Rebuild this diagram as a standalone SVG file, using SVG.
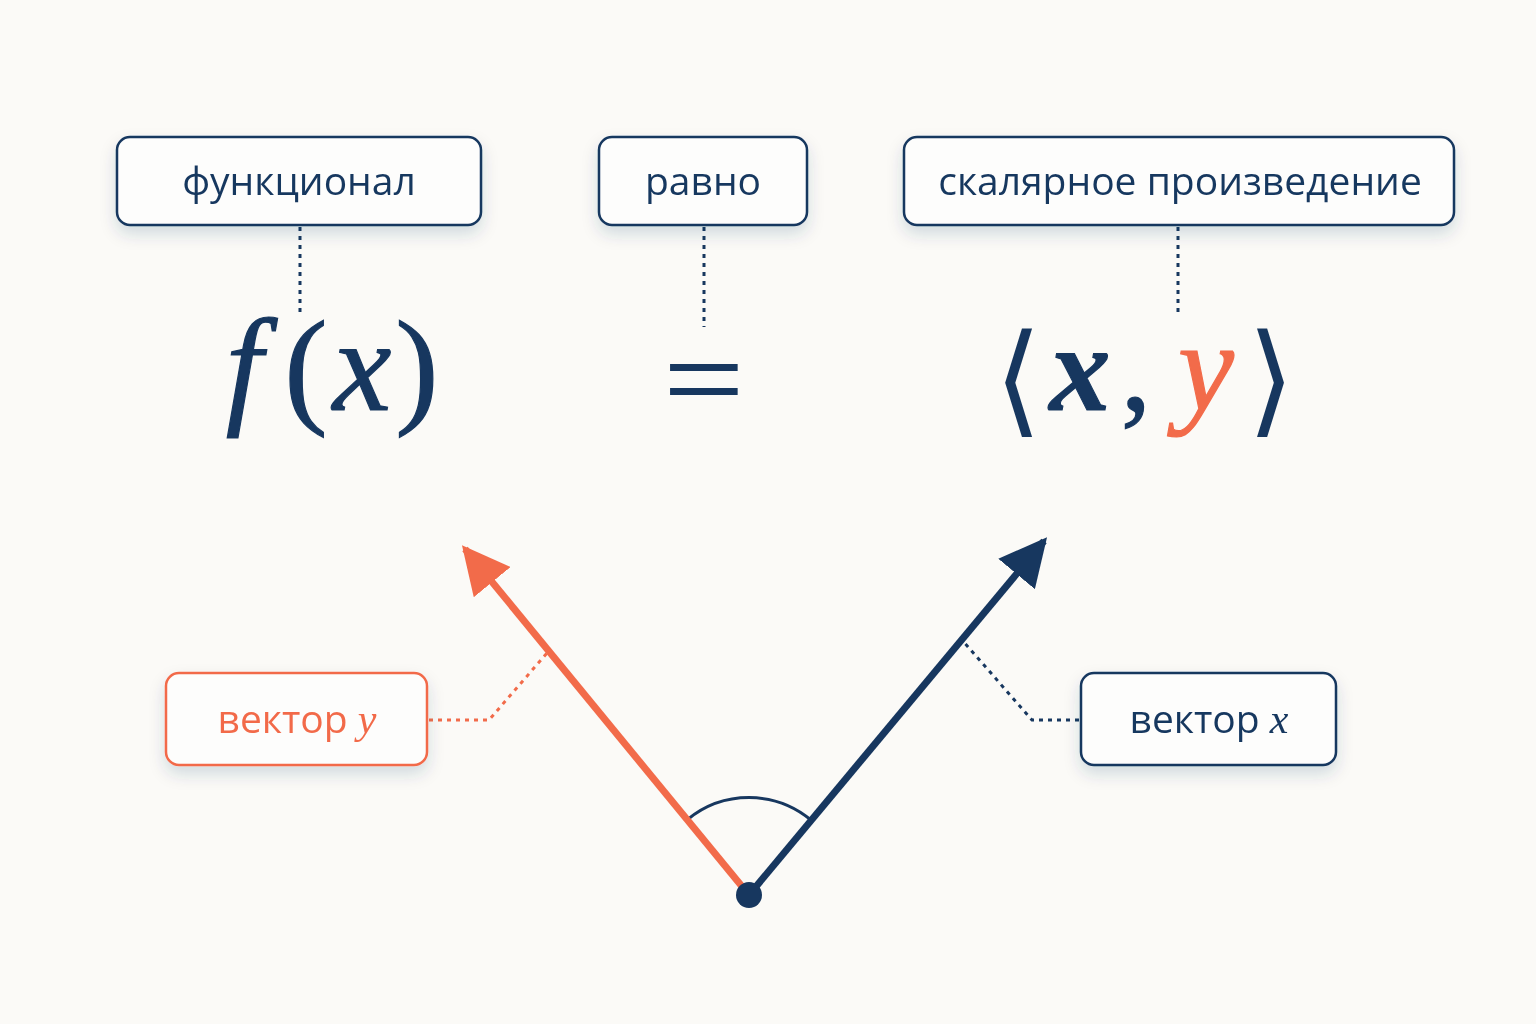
<svg xmlns="http://www.w3.org/2000/svg" width="1536" height="1024" viewBox="0 0 1536 1024">
<defs>
<filter id="sh" x="-20%" y="-30%" width="140%" height="170%">
<feDropShadow dx="0" dy="8" stdDeviation="8" flood-color="#1B3A63" flood-opacity="0.16"/>
</filter>
<marker id="hn" viewBox="0 0 10 10" refX="9" refY="5" markerWidth="6.8" markerHeight="6.8" markerUnits="strokeWidth" orient="auto">
<path d="M0,0 L10,5 L0,10 z" fill="#17375F"/>
</marker>
<marker id="ho" viewBox="0 0 10 10" refX="9" refY="5" markerWidth="6.8" markerHeight="6.8" markerUnits="strokeWidth" orient="auto">
<path d="M0,0 L10,5 L0,10 z" fill="#F26B4A"/>
</marker>
</defs>
<style>
.box{fill:#FDFDFC;stroke:#17375F;stroke-width:2.5}
.boxo{fill:#FDFDFC;stroke:#F26B4A;stroke-width:2.5}
.lbl{font-family:"Open Sans","Liberation Sans",sans-serif;font-size:39px;fill:#17375F;text-anchor:middle}
.math{font-family:"Liberation Serif","DejaVu Serif",serif;fill:#17375F;stroke:#17375F;stroke-width:1.2;text-anchor:middle}
.it{font-style:italic}
.dot{fill:none;stroke:#17375F;stroke-width:3;stroke-dasharray:4 5}
.doto{fill:none;stroke:#F26B4A;stroke-width:3;stroke-dasharray:4 5}
</style>
<rect width="1536" height="1024" fill="#FBFAF7"/>

<g id="connectors">
<line class="dot" x1="300" y1="227" x2="300" y2="313"/>
<line class="dot" x1="704" y1="227" x2="704" y2="327"/>
<line class="dot" x1="1178" y1="227" x2="1178" y2="313"/>
<polyline class="doto" points="429,720 489,720 547,653"/>
<polyline class="dot" points="1079,720 1032,720 962,640"/>
<path d="M687,820 A97,97 0 0 1 811,820" fill="none" stroke="#17375F" stroke-width="3"/>
<line x1="749" y1="895" x2="465" y2="549" stroke="#F26B4A" stroke-width="7" marker-end="url(#ho)"/>
<line x1="749" y1="895" x2="1044" y2="541" stroke="#17375F" stroke-width="7" marker-end="url(#hn)"/>
<circle cx="749" cy="895" r="13" fill="#17375F"/>
</g>

<g id="node-funktsional" filter="url(#sh)">
<rect class="box" x="117" y="137" width="364" height="88" rx="13"/>
<text class="lbl" x="299" y="195">функционал</text>
</g>
<g id="node-ravno" filter="url(#sh)">
<rect class="box" x="599" y="137" width="208" height="88" rx="13"/>
<text class="lbl" x="703" y="195">равно</text>
</g>
<g id="node-skalyarnoe" filter="url(#sh)">
<rect class="box" x="904" y="137" width="550" height="88" rx="13"/>
<text class="lbl" x="1180" y="195">скалярное произведение</text>
</g>

<g id="formula-fx">
<text class="math it" x="244" y="410" font-size="132">f</text>
<text class="math" x="306" y="410" font-size="130">(</text>
<text class="math it" x="362" y="410" font-size="132">x</text>
<text class="math" x="417" y="410" font-size="130">)</text>
</g>
<g id="formula-eq">
<text x="0" y="0" font-family="Liberation Sans, sans-serif" font-size="96" fill="#17375F" text-anchor="middle" transform="translate(704,410.5) scale(1.45,1)">=</text>
</g>
<g id="formula-inner">
<text x="1018" y="421" font-family="DejaVu Sans, sans-serif" font-size="122" fill="#17375F" text-anchor="middle">⟨</text>
<text class="math it" x="1080" y="410" font-size="122" font-weight="bold">x</text>
<text class="math" x="1136" y="410" font-size="122">,</text>
<text class="math it" x="1206" y="410" font-size="126" style="fill:#F26B4A;stroke:#F26B4A">y</text>
<text x="1271" y="421" font-family="DejaVu Sans, sans-serif" font-size="122" fill="#17375F" text-anchor="middle">⟩</text>
</g>

<g id="node-vektor-y" filter="url(#sh)">
<rect class="boxo" x="166" y="673" width="261" height="92" rx="13"/>
<text class="lbl" x="297" y="733" style="fill:#F26B4A">вектор <tspan font-family="Liberation Serif, serif" font-style="italic" font-size="42">y</tspan></text>
</g>
<g id="node-vektor-x" filter="url(#sh)">
<rect class="box" x="1081" y="673" width="255" height="92" rx="13"/>
<text class="lbl" x="1209" y="733">вектор <tspan font-family="Liberation Serif, serif" font-style="italic" font-size="42">x</tspan></text>
</g>
</svg>
